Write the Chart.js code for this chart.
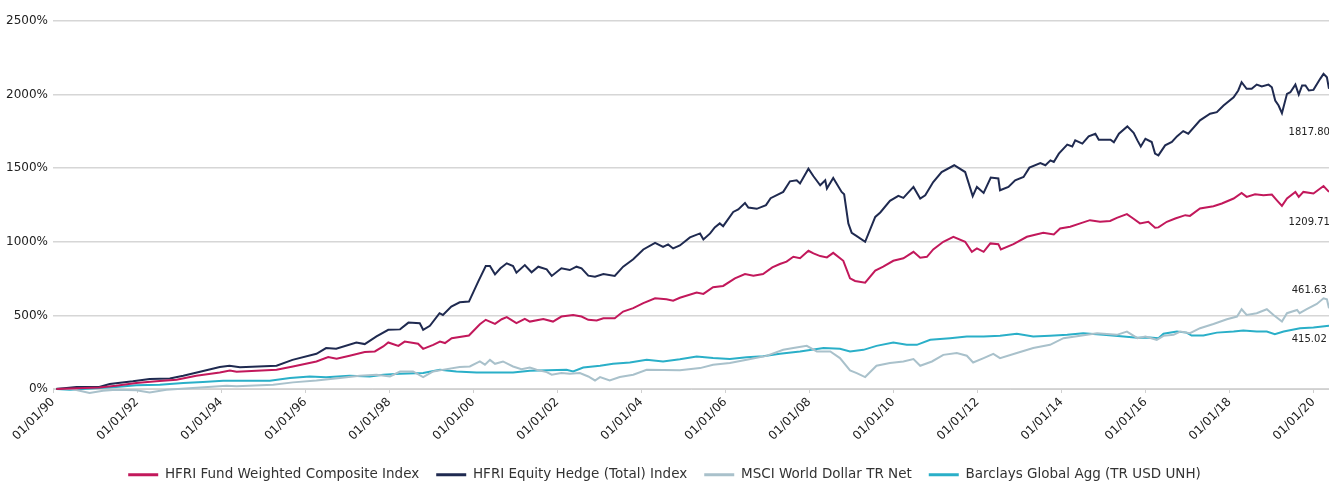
<!DOCTYPE html>
<html>
<head>
<meta charset="utf-8">
<script src="https://cdn.jsdelivr.net/npm/chart.js@4.4.1/dist/chart.umd.min.js"></script>
<style>
  html, body { margin: 0; padding: 0; background: #fff; }
  #wrap { width: 1329px; height: 484px; position: relative; }
</style>
</head>
<body>
<div id="wrap"><canvas id="perfChart"></canvas></div>
<script>
// dates are decimal years, values are cumulative return in %
const fundDates = [1990.08, 1991.1, 1991.5, 1991.98, 1992.46, 1992.94, 1993.41, 1993.97, 1994.21, 1994.37, 1995.32, 1995.71, 1996.27, 1996.55, 1996.75, 1997.06, 1997.42, 1997.66, 1997.86, 1997.98, 1998.22, 1998.37, 1998.69, 1998.81, 1999.05, 1999.21, 1999.33, 1999.49, 1999.9, 2000.16, 2000.3, 2000.52, 2000.68, 2000.8, 2001.03, 2001.23, 2001.35, 2001.67, 2001.9, 2002.1, 2002.38, 2002.58, 2002.74, 2002.94, 2003.1, 2003.37, 2003.57, 2003.81, 2004.05, 2004.33, 2004.6, 2004.76, 2004.92, 2005.32, 2005.48, 2005.71, 2005.95, 2006.23, 2006.47, 2006.67, 2006.9, 2007.12, 2007.3, 2007.46, 2007.62, 2007.78, 2007.98, 2008.1, 2008.26, 2008.42, 2008.57, 2008.81, 2008.97, 2009.09, 2009.33, 2009.57, 2009.76, 2010.0, 2010.24, 2010.48, 2010.64, 2010.8, 2010.95, 2011.19, 2011.43, 2011.71, 2011.87, 2011.99, 2012.15, 2012.31, 2012.5, 2012.56, 2012.86, 2013.18, 2013.57, 2013.82, 2013.97, 2014.21, 2014.45, 2014.68, 2014.92, 2015.16, 2015.32, 2015.56, 2015.71, 2015.87, 2016.07, 2016.23, 2016.31, 2016.51, 2016.71, 2016.95, 2017.06, 2017.3, 2017.62, 2017.82, 2018.1, 2018.29, 2018.41, 2018.61, 2018.81, 2019.01, 2019.13, 2019.25, 2019.37, 2019.57, 2019.65, 2019.76, 2020.0, 2020.24, 2020.37];
const fundValues = [0, 11, 22, 41, 52, 63, 90, 112, 126, 117, 131, 153, 187, 217, 205, 226, 251, 255, 289, 316, 293, 322, 307, 273, 300, 322, 312, 345, 363, 440, 470, 442, 474, 488, 447, 476, 458, 476, 458, 492, 503, 492, 470, 465, 481, 481, 526, 549, 583, 616, 610, 600, 620, 655, 646, 691, 700, 752, 781, 770, 781, 826, 849, 865, 898, 888, 939, 921, 903, 894, 925, 871, 752, 734, 722, 804, 831, 871, 888, 932, 892, 898, 948, 1000, 1034, 1000, 932, 955, 932, 989, 984, 948, 984, 1034, 1061, 1050, 1091, 1102, 1125, 1147, 1136, 1142, 1163, 1188, 1158, 1125, 1136, 1095, 1098, 1136, 1158, 1181, 1176, 1226, 1242, 1260, 1294, 1332, 1305, 1323, 1316, 1321, 1282, 1244, 1294, 1339, 1305, 1339, 1328, 1379, 1339];

const hedgeDates = [1990.08, 1990.56, 1991.1, 1991.35, 1991.9, 1992.3, 1992.78, 1993.1, 1993.5, 1993.97, 1994.2, 1994.45, 1995.32, 1995.7, 1996.27, 1996.5, 1996.74, 1997.22, 1997.42, 1997.7, 1997.98, 1998.26, 1998.46, 1998.73, 1998.81, 1998.97, 1999.2, 1999.28, 1999.48, 1999.68, 1999.9, 2000.12, 2000.3, 2000.4, 2000.52, 2000.65, 2000.8, 2000.95, 2001.03, 2001.23, 2001.39, 2001.55, 2001.75, 2001.87, 2002.1, 2002.3, 2002.46, 2002.58, 2002.74, 2002.9, 2003.1, 2003.37, 2003.57, 2003.81, 2004.05, 2004.33, 2004.52, 2004.64, 2004.76, 2004.92, 2005.16, 2005.4, 2005.48, 2005.64, 2005.75, 2005.87, 2005.95, 2006.19, 2006.31, 2006.47, 2006.55, 2006.75, 2006.97, 2007.08, 2007.38, 2007.54, 2007.7, 2007.78, 2007.98, 2008.1, 2008.26, 2008.38, 2008.42, 2008.57, 2008.77, 2008.83, 2008.93, 2009.01, 2009.13, 2009.33, 2009.57, 2009.69, 2009.92, 2010.12, 2010.24, 2010.48, 2010.64, 2010.76, 2010.95, 2011.15, 2011.45, 2011.71, 2011.89, 2011.99, 2012.15, 2012.32, 2012.5, 2012.54, 2012.74, 2012.9, 2013.1, 2013.24, 2013.5, 2013.62, 2013.74, 2013.82, 2013.94, 2014.14, 2014.26, 2014.33, 2014.5, 2014.65, 2014.81, 2014.89, 2015.17, 2015.25, 2015.37, 2015.57, 2015.72, 2015.81, 2015.89, 2016.0, 2016.15, 2016.23, 2016.31, 2016.47, 2016.63, 2016.75, 2016.9, 2017.02, 2017.3, 2017.54, 2017.7, 2017.86, 2018.1, 2018.21, 2018.29, 2018.41, 2018.53, 2018.65, 2018.77, 2018.93, 2019.01, 2019.09, 2019.17, 2019.25, 2019.37, 2019.45, 2019.57, 2019.65, 2019.73, 2019.81, 2019.89, 2020.0, 2020.16, 2020.24, 2020.32, 2020.37];
const hedgeValues = [0, 14, 14, 34, 52, 68, 72, 90, 117, 149, 158, 147, 158, 198, 239, 278, 273, 316, 305, 357, 402, 405, 451, 447, 402, 429, 515, 503, 560, 589, 594, 729, 835, 835, 779, 820, 854, 835, 790, 842, 793, 831, 813, 768, 820, 808, 831, 820, 770, 763, 781, 768, 831, 881, 948, 993, 966, 982, 955, 975, 1030, 1057, 1016, 1057, 1098, 1125, 1106, 1203, 1220, 1264, 1233, 1224, 1249, 1296, 1339, 1411, 1418, 1396, 1497, 1445, 1384, 1418, 1362, 1434, 1339, 1323, 1125, 1061, 1039, 1000, 1169, 1199, 1278, 1312, 1298, 1373, 1294, 1316, 1406, 1474, 1520, 1474, 1310, 1373, 1332, 1436, 1430, 1350, 1373, 1418, 1440, 1504, 1535, 1520, 1553, 1542, 1599, 1660, 1648, 1689, 1667, 1716, 1734, 1694, 1694, 1676, 1734, 1784, 1740, 1689, 1648, 1700, 1678, 1599, 1587, 1655, 1678, 1716, 1752, 1734, 1825, 1870, 1881, 1926, 1982, 2028, 2084, 2039, 2039, 2068, 2055, 2068, 2050, 1960, 1926, 1874, 2005, 2016, 2068, 2000, 2062, 2062, 2028, 2032, 2107, 2141, 2118, 2039];

const msciDates = [1990.08, 1990.45, 1990.87, 1991.19, 1991.5, 1991.98, 1992.3, 1992.7, 1993.33, 1994.13, 1994.37, 1995.24, 1995.71, 1996.27, 1996.83, 1997.3, 1997.7, 1998.02, 1998.26, 1998.57, 1998.81, 1999.05, 1999.37, 1999.68, 1999.92, 2000.16, 2000.28, 2000.4, 2000.52, 2000.71, 2000.95, 2001.15, 2001.35, 2001.51, 2001.75, 2001.87, 2002.1, 2002.3, 2002.54, 2002.74, 2002.9, 2003.02, 2003.25, 2003.49, 2003.81, 2004.13, 2004.92, 2005.4, 2005.71, 2006.11, 2006.51, 2006.98, 2007.38, 2007.62, 2007.94, 2008.18, 2008.5, 2008.73, 2008.97, 2009.13, 2009.33, 2009.6, 2009.92, 2010.24, 2010.48, 2010.64, 2010.92, 2011.19, 2011.51, 2011.75, 2011.9, 2012.15, 2012.38, 2012.54, 2012.94, 2013.33, 2013.73, 2014.05, 2014.45, 2014.85, 2015.32, 2015.56, 2015.81, 2016.0, 2016.27, 2016.43, 2016.67, 2016.83, 2017.06, 2017.3, 2017.62, 2017.94, 2018.18, 2018.29, 2018.41, 2018.65, 2018.89, 2019.05, 2019.25, 2019.37, 2019.61, 2019.67, 2019.84, 2020.08, 2020.24, 2020.32, 2020.37];
const msciValues = [4, 0, -27, -12, -5, -9, -23, -5, 7, 22, 18, 29, 45, 58, 75, 90, 97, 85, 119, 119, 81, 119, 135, 149, 153, 187, 165, 198, 171, 187, 153, 135, 146, 131, 115, 97, 108, 104, 108, 85, 58, 81, 58, 81, 97, 131, 128, 142, 165, 176, 198, 225, 266, 278, 293, 255, 255, 210, 126, 108, 81, 158, 176, 187, 203, 158, 187, 232, 244, 226, 180, 210, 239, 210, 244, 278, 300, 345, 361, 379, 368, 390, 345, 356, 334, 361, 368, 390, 379, 413, 442, 474, 492, 542, 503, 515, 542, 503, 458, 515, 537, 515, 542, 578, 616, 610, 549];

const aggDates = [1990.08, 1990.4, 1990.71, 1991.1, 1991.5, 1991.98, 1992.54, 1993.1, 1993.57, 1994.05, 1995.16, 1995.64, 1996.11, 1996.5, 1997.06, 1997.54, 1997.86, 1998.26, 1998.81, 1999.21, 1999.6, 2000.08, 2000.95, 2001.35, 2002.22, 2002.38, 2002.62, 2003.02, 2003.33, 2003.73, 2004.13, 2004.52, 2004.92, 2005.32, 2005.71, 2006.11, 2006.51, 2006.9, 2007.3, 2007.78, 2008.34, 2008.73, 2008.97, 2009.29, 2009.6, 2010.0, 2010.32, 2010.56, 2010.88, 2011.35, 2011.75, 2012.15, 2012.54, 2012.94, 2013.33, 2013.73, 2014.14, 2014.52, 2015.0, 2015.48, 2015.81, 2016.11, 2016.31, 2016.43, 2016.75, 2016.98, 2017.1, 2017.38, 2017.7, 2018.1, 2018.33, 2018.65, 2018.89, 2019.08, 2019.29, 2019.68, 2020.0, 2020.37];
const aggValues = [0, -5, 0, 7, 14, 25, 29, 41, 47, 56, 56, 75, 85, 79, 90, 85, 97, 104, 108, 131, 119, 112, 112, 124, 131, 119, 146, 158, 171, 180, 198, 187, 202, 221, 210, 203, 215, 222, 240, 255, 278, 273, 255, 266, 293, 316, 300, 300, 334, 345, 356, 356, 361, 375, 356, 361, 368, 379, 368, 356, 349, 350, 345, 375, 390, 383, 363, 363, 383, 390, 397, 390, 390, 373, 390, 413, 417, 429];

const seriesNames = ['HFRI Fund Weighted Composite Index', 'HFRI Equity Hedge (Total) Index', 'MSCI World Dollar TR Net', 'Barclays Global Agg (TR USD UNH)'];
const seriesColors = ['#c2185b', '#1f2a50', '#a9c1cb', '#2aafc8'];
const yTicks = [0, 500, 1000, 1500, 2000, 2500];

// labels printed near the right edge
const endLabels = ['1817.80', '1209.71', '461.63', '415.02'];
const endLabelAt = [[2019.9, 1745], [2019.9, 1131], [2019.9, 673], [2019.9, 334]];

function toPoints(dates, values) {
    return dates.map((d, i) => ({ x: d, y: values[i] }));
}

const allDates = [fundDates, hedgeDates, msciDates, aggDates];
const allValues = [fundValues, hedgeValues, msciValues, aggValues];

const datasets = seriesNames.map((name, i) => ({
    label: name,
    data: toPoints(allDates[i], allValues[i]),
    borderColor: seriesColors[i],
    backgroundColor: seriesColors[i],
    borderWidth: 2,
    pointRadius: 0,
    tension: 0,
    clip: false
}));

const endLabelPlugin = {
    id: 'endLabels',
    afterDatasetsDraw(chart) {
        const ctx = chart.ctx;
        const xs = chart.scales.x, ys = chart.scales.y;
        ctx.save();
        ctx.font = '10px "DejaVu Sans"';
        ctx.fillStyle = '#222';
        ctx.textAlign = 'center';
        ctx.textBaseline = 'middle';
        endLabels.forEach((txt, i) => {
            ctx.fillText(txt, xs.getPixelForValue(endLabelAt[i][0]), ys.getPixelForValue(endLabelAt[i][1]));
        });
        ctx.restore();
    }
};

const ctx = document.getElementById('perfChart').getContext('2d');
new Chart(ctx, {
    type: 'line',
    data: { datasets: datasets },
    options: {
        responsive: true,
        maintainAspectRatio: false,
        animation: false,
        layout: { padding: { top: 21, right: 0, left: 0, bottom: -7.5 } },
        plugins: {
            legend: {
                display: true,
                position: 'bottom',
                labels: {
                    boxWidth: 30,
                    boxHeight: 3,
                    padding: 17,
                    color: '#333',
                    font: { family: 'DejaVu Sans', size: 13.5 },
                    generateLabels(chart) {
                        return Chart.defaults.plugins.legend.labels.generateLabels(chart)
                            .map(l => Object.assign(l, { lineWidth: 0 }));
                    }
                }
            },
            tooltip: { enabled: false }
        },
        scales: {
            x: {
                type: 'linear',
                min: 1990,
                max: 2020.37,
                afterFit(s) { s.height = 62; },
                grid: { drawOnChartArea: false, color: '#d0d0d0', tickLength: 4 },
                border: { color: '#d0d0d0' },
                ticks: {
                    stepSize: 2,
                    includeBounds: false,
                    autoSkip: false,
                    maxRotation: 45,
                    minRotation: 45,
                    padding: 2,
                    color: '#222',
                    font: { family: 'DejaVu Sans', size: 12 },
                    callback: v => '01/01/' + String(Math.round(v) % 100).padStart(2, '0')
                }
            },
            y: {
                min: 0,
                max: 2500,
                afterFit(s) { s.width = 53; },
                afterBuildTicks(s) { s.ticks = yTicks.map(v => ({ value: v })); },
                grid: { drawTicks: false, color: '#d6d6d6', lineWidth: 1.5 },
                border: { display: false },
                ticks: {
                    padding: 5,
                    color: '#222',
                    font: { family: 'DejaVu Sans', size: 12 },
                    callback: v => v + '%'
                }
            }
        }
    },
    plugins: [endLabelPlugin]
});
</script>
</body>
</html>
